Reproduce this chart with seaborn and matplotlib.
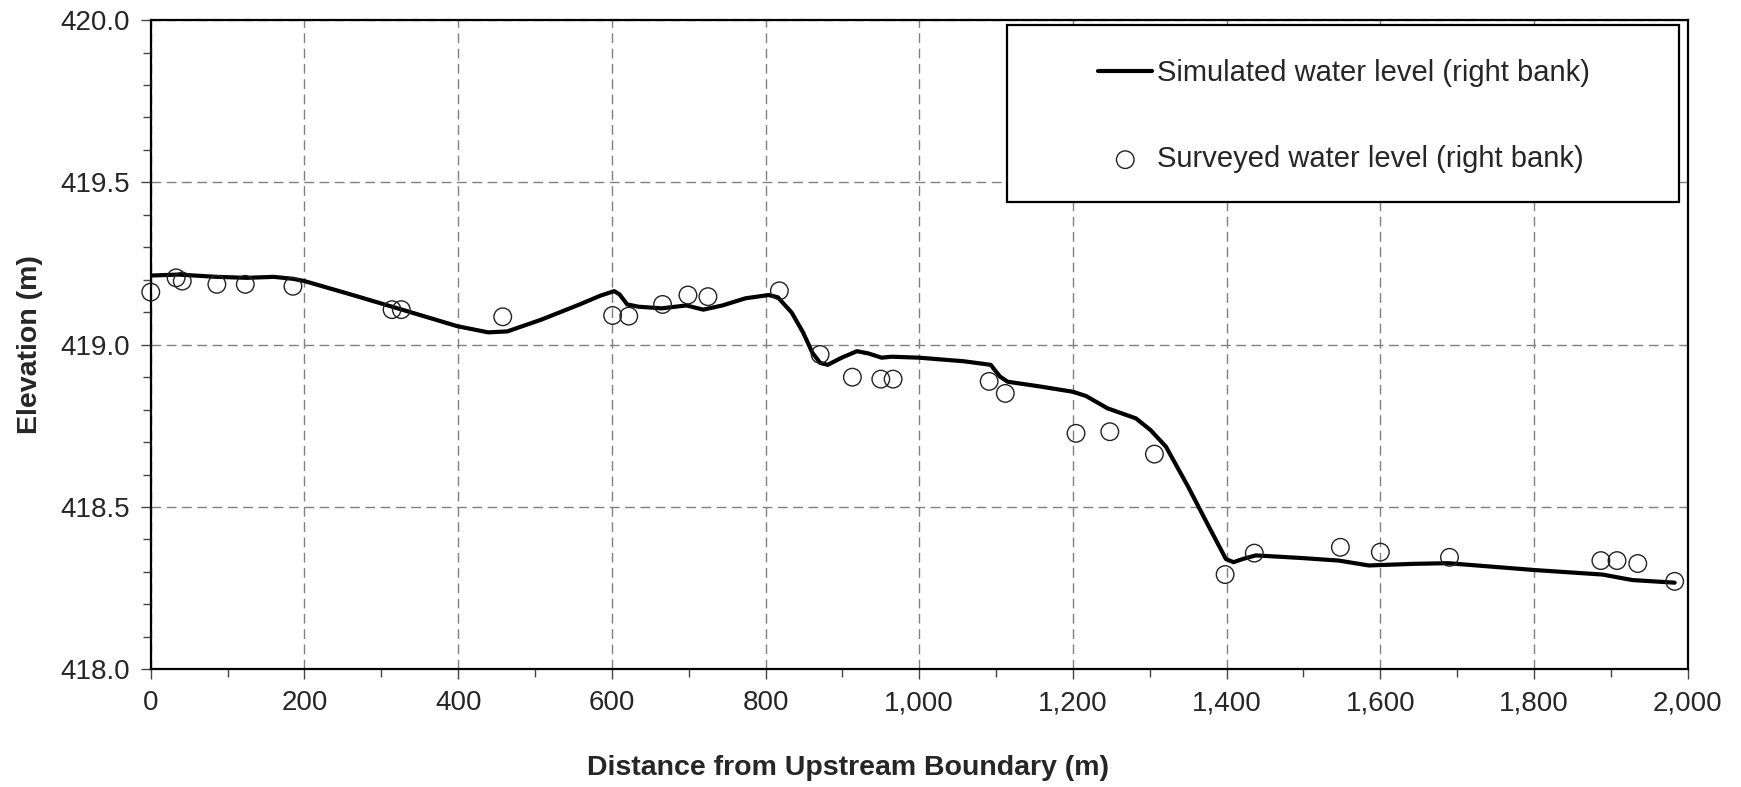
import matplotlib
matplotlib.use("Agg")
import matplotlib.pyplot as plt
from matplotlib.ticker import MultipleLocator, FuncFormatter
from matplotlib.patches import Rectangle
import seaborn as sns
import pandas as pd

# ---- data ----
sim_dist = [0, 36, 86, 125, 160, 185, 200, 260, 334, 399, 439, 464, 508, 558, 585,
            603, 610, 620, 635, 665, 697, 719, 744, 774, 804, 816, 834, 849, 861,
            871, 881, 899, 919, 934, 951, 964, 1000, 1058, 1093, 1105, 1115, 1158,
            1200, 1217, 1245, 1282, 1301, 1321, 1350, 1375, 1399, 1409, 1421, 1438,
            1497, 1546, 1585, 1644, 1688, 1800, 1889, 1928, 1983]
sim_elev = [419.213, 419.216, 419.209, 419.206, 419.209, 419.203, 419.196, 419.155,
            419.103, 419.057, 419.038, 419.041, 419.077, 419.124, 419.151, 419.165,
            419.155, 419.124, 419.117, 419.112, 419.121, 419.108, 419.121, 419.143,
            419.153, 419.146, 419.099, 419.037, 418.975, 418.944, 418.938, 418.960,
            418.980, 418.973, 418.960, 418.963, 418.960, 418.949, 418.938, 418.902,
            418.886, 418.871, 418.855, 418.842, 418.804, 418.773, 418.737, 418.686,
            418.562, 418.448, 418.340, 418.330, 418.340, 418.351, 418.343, 418.335,
            418.320, 418.325, 418.327, 418.306, 418.292, 418.275, 418.267]

obs_dist = [0, 33, 41, 86, 123, 185, 314, 326, 458, 601, 622, 666, 699, 725, 818,
            871, 913, 950, 966, 1091, 1112, 1204, 1248, 1306, 1398, 1436, 1548, 1600,
            1690, 1887, 1908, 1935, 1983]
obs_elev = [419.162, 419.206, 419.196, 419.186, 419.186, 419.180, 419.108, 419.108,
            419.086, 419.090, 419.088, 419.124, 419.153, 419.148, 419.166, 418.970,
            418.900, 418.894, 418.894, 418.887, 418.850, 418.727, 418.732, 418.663,
            418.292, 418.358, 418.376, 418.361, 418.345, 418.335, 418.335, 418.326,
            418.271]

sim_label = "Simulated water level (right bank)"
obs_label = "Surveyed water level (right bank)"
x_label = "Distance from Upstream Boundary (m)"
y_label = "Elevation (m)"

sim_df = pd.DataFrame({"dist": sim_dist, "elev": sim_elev})
obs_df = pd.DataFrame({"dist": obs_dist, "elev": obs_elev})

sns.set_style("white")
plt.rcParams["font.family"] = ["Liberation Sans", "DejaVu Sans"]

fig = plt.figure(figsize=(17.41, 7.87), dpi=100)
ax = fig.add_axes([0.0866, 0.1495, 0.8828, 0.825])

sns.lineplot(data=sim_df, x="dist", y="elev", ax=ax, color="black", linewidth=3.0,
             label=sim_label, zorder=3, sort=False,
             solid_joinstyle="round", solid_capstyle="round")
sns.scatterplot(data=obs_df, x="dist", y="elev", ax=ax, marker="o", s=160,
                color="none", edgecolor="#222222", linewidth=1.0, label=obs_label,
                zorder=4, clip_on=False)
for coll in ax.collections:
    coll.set_facecolor("none")
    coll.set_edgecolor("#222222")

ax.set_xlim(0, 2000)
ax.set_ylim(418.0, 420.0)
ax.xaxis.set_major_locator(MultipleLocator(200))
ax.xaxis.set_minor_locator(MultipleLocator(100))
ax.yaxis.set_major_locator(MultipleLocator(0.5))
ax.yaxis.set_minor_locator(MultipleLocator(0.1))
ax.xaxis.set_major_formatter(FuncFormatter(lambda v, p: f"{v:,.0f}"))
ax.yaxis.set_major_formatter(FuncFormatter(lambda v, p: f"{v:.1f}"))

ax.tick_params(axis="both", which="major", direction="out", length=7, width=1,
               color="#444444", pad=8, labelsize=20, left=True, bottom=True)
ax.tick_params(axis="both", which="minor", direction="out", length=6, width=1,
               color="#444444", left=True, bottom=True)

ax.grid(True, which="major", color="#808080", linestyle=(0, (7, 4)), linewidth=1.0)
ax.set_axisbelow(True)
for sp in ax.spines.values():
    sp.set_visible(True)
    sp.set_color("black")
    sp.set_linewidth(1.6)

ax.set_xlabel(x_label, fontsize=20.5, fontweight="bold")
ax.set_ylabel(y_label, fontsize=20.5, fontweight="bold")
ax.xaxis.set_label_coords(0.4537, -0.1525)
ax.xaxis.label.set_va("center")
ax.yaxis.set_label_coords(-0.0785, 0.5)
ax.yaxis.label.set_va("center")

# legend box
ax.add_patch(Rectangle((0.5571, 0.7197), 0.437, 0.2726, transform=ax.transAxes,
                       facecolor="white", edgecolor="black", linewidth=1.6, zorder=6))
leg = ax.legend(loc="center left", bbox_to_anchor=(0.607, 0.852), frameon=False,
                borderpad=0, labelspacing=2.0, handlelength=1.85, handletextpad=0.15,
                fontsize=21)
leg.set_zorder(7)

fig.savefig("out.png", dpi=100)
